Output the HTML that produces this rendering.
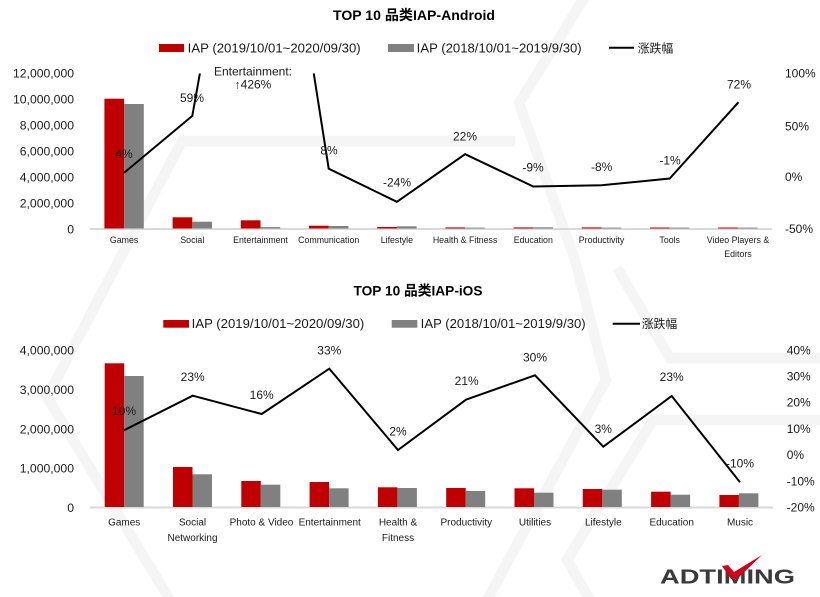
<!DOCTYPE html>
<html><head><meta charset="utf-8"><style>
html,body{margin:0;padding:0;background:#fff;}
svg{display:block;}
text{font-family:"Liberation Sans","Noto Sans CJK SC",sans-serif;fill:#1a1a1a;}
.t{font-weight:bold;font-size:14px;fill:#000;}
.lg{font-size:13px;}
.ax{font-size:12.2px;}
.ra{font-size:12px;}
.c1{font-size:8.8px;text-anchor:middle;}
.c2{font-size:10px;text-anchor:middle;}
.dl{font-size:12px;text-anchor:middle;fill:#000;}
.wm{fill:none;stroke:#f5f5f5;stroke-width:10.5;stroke-linejoin:miter;}
</style></head><body>
<svg width="820" height="597" viewBox="0 0 820 597" xmlns="http://www.w3.org/2000/svg">
<defs><clipPath id="cp"><rect x="0" y="73.5" width="820" height="200"/></clipPath></defs>
<rect width="820" height="597" fill="#fff"/>
<!-- watermark -->
<polyline class="wm" points="586,-5 519,103 575,260 606,380 487,600"/>
<polyline class="wm" points="617,268 670,358 825,358"/>
<polyline class="wm" points="825,420 653,420 567,560 590,600"/>
<polyline class="wm" points="515,141 182,141 47,397 170,600"/>

<!-- ===== TOP CHART ===== -->
<text class="t" x="414" y="20" text-anchor="middle" textLength="162" lengthAdjust="spacingAndGlyphs">TOP 10 品类IAP-Android</text>
<rect x="159" y="44" width="25" height="8" fill="#c00000"/>
<text class="lg" x="187.7" y="52.5" textLength="173" lengthAdjust="spacingAndGlyphs">IAP (2019/10/01~2020/09/30)</text>
<rect x="388" y="44" width="26" height="8" fill="#808080"/>
<text class="lg" x="416.7" y="52.5" textLength="165" lengthAdjust="spacingAndGlyphs">IAP (2018/10/01~2019/9/30)</text>
<line x1="609" y1="47.7" x2="634" y2="47.7" stroke="#000" stroke-width="2"/>
<text class="lg" x="637.7" y="52.5" textLength="35.6" lengthAdjust="spacingAndGlyphs" style="font-size:12px">涨跌幅</text>

<g class="ax" text-anchor="end">
<text x="74" y="77.4">12,000,000</text>
<text x="74" y="103.4">10,000,000</text>
<text x="74" y="129.4">8,000,000</text>
<text x="74" y="155.4">6,000,000</text>
<text x="74" y="181.4">4,000,000</text>
<text x="74" y="207.4">2,000,000</text>
<text x="74" y="233.4">0</text>
</g>
<g class="ra">
<text x="785" y="77.6">100%</text>
<text x="785" y="130.3">50%</text>
<text x="785" y="181">0%</text>
<text x="785" y="233">-50%</text>
</g>

<line x1="90" y1="229" x2="772" y2="229" stroke="#d9d9d9" stroke-width="2"/>
<g fill="#c00000">
<rect x="104.4" y="98.7" width="19.7" height="129.8"/>
<rect x="172.6" y="217.3" width="19.7" height="11.2"/>
<rect x="240.8" y="220.3" width="19.7" height="8.2"/>
<rect x="309" y="225.7" width="19.7" height="2.8"/>
<rect x="377.2" y="227" width="19.7" height="1.5"/>
<rect x="445.4" y="227.4" width="19.7" height="1.1"/>
<rect x="513.6" y="227.4" width="19.7" height="1.1"/>
<rect x="581.8" y="227.4" width="19.7" height="1.1"/>
<rect x="650" y="227.5" width="19.7" height="1"/>
<rect x="718.2" y="227.5" width="19.7" height="1"/>
</g>
<g fill="#808080">
<rect x="124.1" y="104" width="19.7" height="124.5"/>
<rect x="192.3" y="221.7" width="19.7" height="6.8"/>
<rect x="260.5" y="227.1" width="19.7" height="1.4"/>
<rect x="328.7" y="226" width="19.7" height="2.5"/>
<rect x="396.9" y="226.3" width="19.7" height="2.2"/>
<rect x="465.1" y="227.6" width="19.7" height="0.9"/>
<rect x="533.3" y="227.3" width="19.7" height="1.2"/>
<rect x="601.5" y="227.6" width="19.7" height="0.9"/>
<rect x="669.7" y="227.6" width="19.7" height="0.9"/>
<rect x="737.9" y="227.6" width="19.7" height="0.9"/>
</g>
<polyline clip-path="url(#cp)" fill="none" stroke="#000" stroke-width="2" stroke-linejoin="miter"
 points="124.1,172.8 192.3,115.9 260.5,-266 328.7,168.7 396.9,201.8 465.1,154.2 533.3,186.5 601.5,185.3 669.7,178.5 738.5,102.2"/>

<g class="dl">
<text x="124" y="158">4%</text>
<text x="192" y="102">59%</text>
<text x="253" y="75.6">Entertainment:</text>
<text x="253" y="88.3">↑426%</text>
<text x="329" y="154.3">8%</text>
<text x="397" y="186.3">-24%</text>
<text x="465" y="140.3">22%</text>
<text x="533" y="171.6">-9%</text>
<text x="601.7" y="171">-8%</text>
<text x="670" y="164.3">-1%</text>
<text x="739" y="88.3">72%</text>
</g>

<g class="c1">
<text x="124.1" y="243.2">Games</text>
<text x="192.3" y="243.2">Social</text>
<text x="260.5" y="243.2">Entertainment</text>
<text x="328.7" y="243.2">Communication</text>
<text x="396.9" y="243.2">Lifestyle</text>
<text x="465.1" y="243.2">Health &amp; Fitness</text>
<text x="533.3" y="243.2">Education</text>
<text x="601.5" y="243.2">Productivity</text>
<text x="669.7" y="243.2">Tools</text>
<text x="738" y="243.2">Video Players &amp;</text>
<text x="738" y="257.2">Editors</text>
</g>

<!-- ===== BOTTOM CHART ===== -->
<text class="t" x="418" y="295.7" text-anchor="middle" textLength="129" lengthAdjust="spacingAndGlyphs">TOP 10 品类IAP-iOS</text>
<rect x="163.3" y="320" width="25.7" height="7.7" fill="#c00000"/>
<text class="lg" x="191.7" y="328" textLength="172.6" lengthAdjust="spacingAndGlyphs">IAP (2019/10/01~2020/09/30)</text>
<rect x="391.7" y="320" width="25.6" height="7.7" fill="#808080"/>
<text class="lg" x="420.7" y="328" textLength="165" lengthAdjust="spacingAndGlyphs">IAP (2018/10/01~2019/9/30)</text>
<line x1="612.7" y1="323.7" x2="640" y2="323.7" stroke="#000" stroke-width="2"/>
<text class="lg" x="641.7" y="328" textLength="35.6" lengthAdjust="spacingAndGlyphs" style="font-size:12px">涨跌幅</text>

<g class="ax" text-anchor="end">
<text x="74" y="354.7">4,000,000</text>
<text x="74" y="394">3,000,000</text>
<text x="74" y="433.3">2,000,000</text>
<text x="74" y="472.6">1,000,000</text>
<text x="74" y="512">0</text>
</g>
<g class="ra">
<text x="786.7" y="354.3">40%</text>
<text x="786.7" y="380.5">30%</text>
<text x="786.7" y="406.7">20%</text>
<text x="786.7" y="432.9">10%</text>
<text x="786.7" y="459.1">0%</text>
<text x="786.7" y="485.3">-10%</text>
<text x="786.7" y="511.5">-20%</text>
</g>

<line x1="90" y1="507.5" x2="773" y2="507.5" stroke="#d9d9d9" stroke-width="2"/>
<g fill="#c00000">
<rect x="104.7" y="363.3" width="19.5" height="143.7"/>
<rect x="173" y="467" width="19.5" height="40"/>
<rect x="241.3" y="481" width="19.5" height="26"/>
<rect x="309.6" y="482" width="19.5" height="25"/>
<rect x="377.9" y="487.3" width="19.5" height="19.7"/>
<rect x="446.2" y="488" width="19.5" height="19"/>
<rect x="514.5" y="488.3" width="19.5" height="18.7"/>
<rect x="582.8" y="489" width="19.5" height="18"/>
<rect x="651.1" y="491.7" width="19.5" height="15.3"/>
<rect x="719.4" y="495" width="19.5" height="12"/>
</g>
<g fill="#808080">
<rect x="124.2" y="376" width="19.5" height="131"/>
<rect x="192.5" y="474.3" width="19.5" height="32.7"/>
<rect x="260.8" y="484.7" width="19.5" height="22.3"/>
<rect x="329.1" y="488.3" width="19.5" height="18.7"/>
<rect x="397.4" y="488" width="19.5" height="19"/>
<rect x="465.7" y="491" width="19.5" height="16"/>
<rect x="534" y="492.7" width="19.5" height="14.3"/>
<rect x="602.3" y="489.7" width="19.5" height="17.3"/>
<rect x="670.6" y="494.7" width="19.5" height="12.3"/>
<rect x="738.9" y="493.3" width="19.5" height="13.7"/>
</g>
<polyline fill="none" stroke="#000" stroke-width="2" stroke-linejoin="miter"
 points="124,430.3 192.7,395.7 261.7,414 329.3,368.7 398,450 466,399.7 535,375.3 603.3,446.7 671.7,396 740,482.3"/>

<g class="dl">
<text x="124" y="415">10%</text>
<text x="192.7" y="381">23%</text>
<text x="261.7" y="399">16%</text>
<text x="329.3" y="354.3">33%</text>
<text x="398" y="435.3">2%</text>
<text x="466.7" y="385">21%</text>
<text x="535" y="361.3">30%</text>
<text x="603.3" y="433">3%</text>
<text x="671.7" y="381">23%</text>
<text x="740" y="467.6">-10%</text>
</g>

<g class="c2">
<text x="124.2" y="525.3">Games</text>
<text x="192.5" y="525.3">Social</text>
<text x="192.5" y="541">Networking</text>
<text x="261.5" y="525.3">Photo &amp; Video</text>
<text x="329.7" y="525.3">Entertainment</text>
<text x="398" y="525.3">Health &amp;</text>
<text x="398" y="541">Fitness</text>
<text x="466.3" y="525.3">Productivity</text>
<text x="535" y="525.3">Utilities</text>
<text x="603.3" y="525.3">Lifestyle</text>
<text x="671.7" y="525.3">Education</text>
<text x="740" y="525.3">Music</text>
</g>

<!-- logo -->
<text x="660" y="583.5" textLength="135" lengthAdjust="spacingAndGlyphs" style="font-size:20.5px;font-weight:bold;fill:#3a3a3a;">ADTIMING</text>
<polygon points="722,566 728,565 734,572 762,555 737,579 731,579" fill="#d0021b"/>
</svg>
</body></html>
